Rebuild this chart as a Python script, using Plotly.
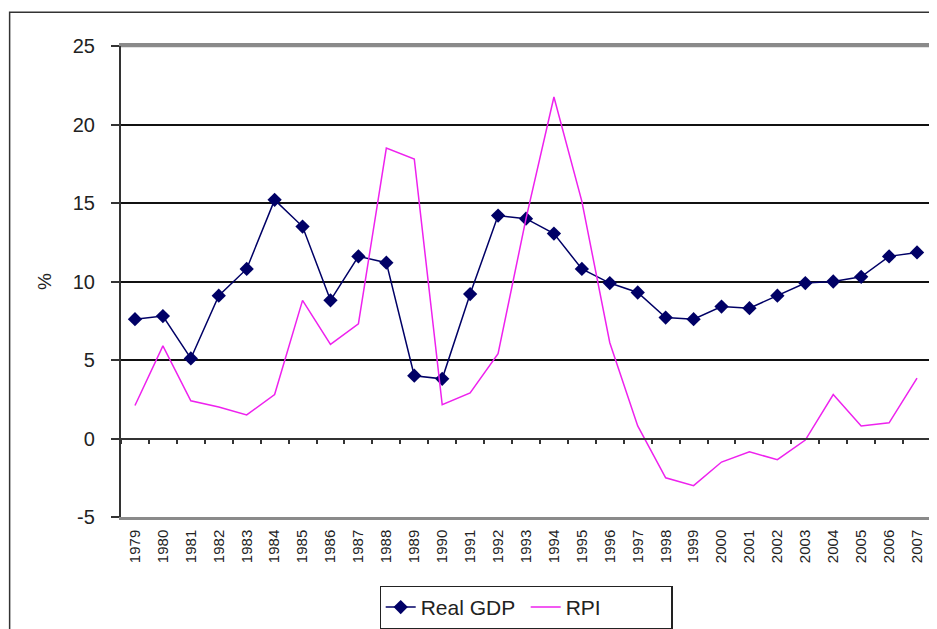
import plotly.graph_objects as go

years = [str(y) for y in range(1979, 2008)]
real_gdp = [7.6, 7.8, 5.1, 9.1, 10.8, 15.2, 13.5, 8.8, 11.6, 11.2, 4.0, 3.8, 9.2, 14.2,
            14.0, 13.05, 10.8, 9.9, 9.3, 7.7, 7.6, 8.4, 8.3, 9.1, 9.9, 10.0, 10.3, 11.6, 11.85]
rpi = [2.1, 5.9, 2.4, 2.0, 1.5, 2.8, 8.8, 6.0, 7.3, 18.5, 17.8, 2.15, 2.9, 5.4,
       14.0, 21.75, 15.1, 6.1, 0.8, -2.5, -3.0, -1.5, -0.85, -1.35, -0.1, 2.8, 0.8, 1.0, 3.85]
y_ticks = [-5, 0, 5, 10, 15, 20, 25]
y_tick_labels = ["-5", "0", "5", "10", "15", "20", "25"]

FONT = "Liberation Sans, Arial, sans-serif"
x_range = [-0.5, len(years) - 0.5]

fig = go.Figure()
fig.add_trace(go.Scatter(
    x=years, y=real_gdp, name="Real GDP", mode="lines+markers",
    line=dict(color="#000066", width=1.5),
    marker=dict(symbol="diamond", size=11, color="#000066"),
    xaxis="x", yaxis="y",
))
fig.add_trace(go.Scatter(
    x=years, y=rpi, name="RPI", mode="lines",
    line=dict(color="#ee22ee", width=1.5),
    xaxis="x2", yaxis="y",
))

fig.update_layout(
    width=929, height=621,
    margin=dict(l=113, r=6, t=38, b=112, autoexpand=False),
    paper_bgcolor="white", plot_bgcolor="white",
    font=dict(family=FONT, color="#222222"),
    showlegend=True,
    legend=dict(
        orientation="h", x=0.5, xanchor="center", y=-0.146, yanchor="top",
        bordercolor="#222222", borderwidth=1.2, font=dict(size=21, family=FONT),
        traceorder="normal", tracegroupgap=0, entrywidth=100, entrywidthmode="pixels",
    ),
    xaxis=dict(
        type="category", categoryorder="array", categoryarray=years, range=x_range,
        showline=True, linecolor="#8a8a8a", linewidth=2.5, mirror=True,
        showgrid=False, ticks="", tickangle=-90, tickfont=dict(size=15),
        ticklabelstandoff=4, zeroline=False,
    ),
    xaxis2=dict(
        type="category", categoryorder="array", categoryarray=years, range=x_range,
        overlaying="x", anchor="free", position=5 / 30,
        showline=True, linecolor="#333333", linewidth=1.8,
        ticks="outside", ticklen=5, tickwidth=1.5, tickcolor="#333333",
        tickson="boundaries", showticklabels=False, showgrid=False, zeroline=False,
    ),
    yaxis=dict(
        range=[-5, 25], tickvals=y_ticks, ticktext=y_tick_labels,
        showgrid=True, gridcolor="#111111",
        gridwidth=1.5, showline=True, linecolor="#333333", linewidth=2.2,
        ticks="outside", ticklen=8, tickwidth=1.5, tickcolor="#333333",
        tickfont=dict(size=20), ticklabelstandoff=12, zeroline=False,
        title=dict(text="%", font=dict(size=19), standoff=16),
    ),
    shapes=[
        dict(type="line", xref="paper", yref="paper", x0=0, x1=1, y0=1, y1=1,
             line=dict(color="#8a8a8a", width=2.5), layer="above"),
        dict(type="line", xref="paper", yref="paper", x0=1, x1=1, y0=0, y1=1,
             line=dict(color="#8a8a8a", width=2.5), layer="above"),
        dict(type="rect", xref="paper", yref="paper", x0=-0.1375, x1=1.2,
             y0=-0.4, y1=1.0715, line=dict(color="#333333", width=1.5), layer="above"),
    ],
)

fig.write_html("out.html")
